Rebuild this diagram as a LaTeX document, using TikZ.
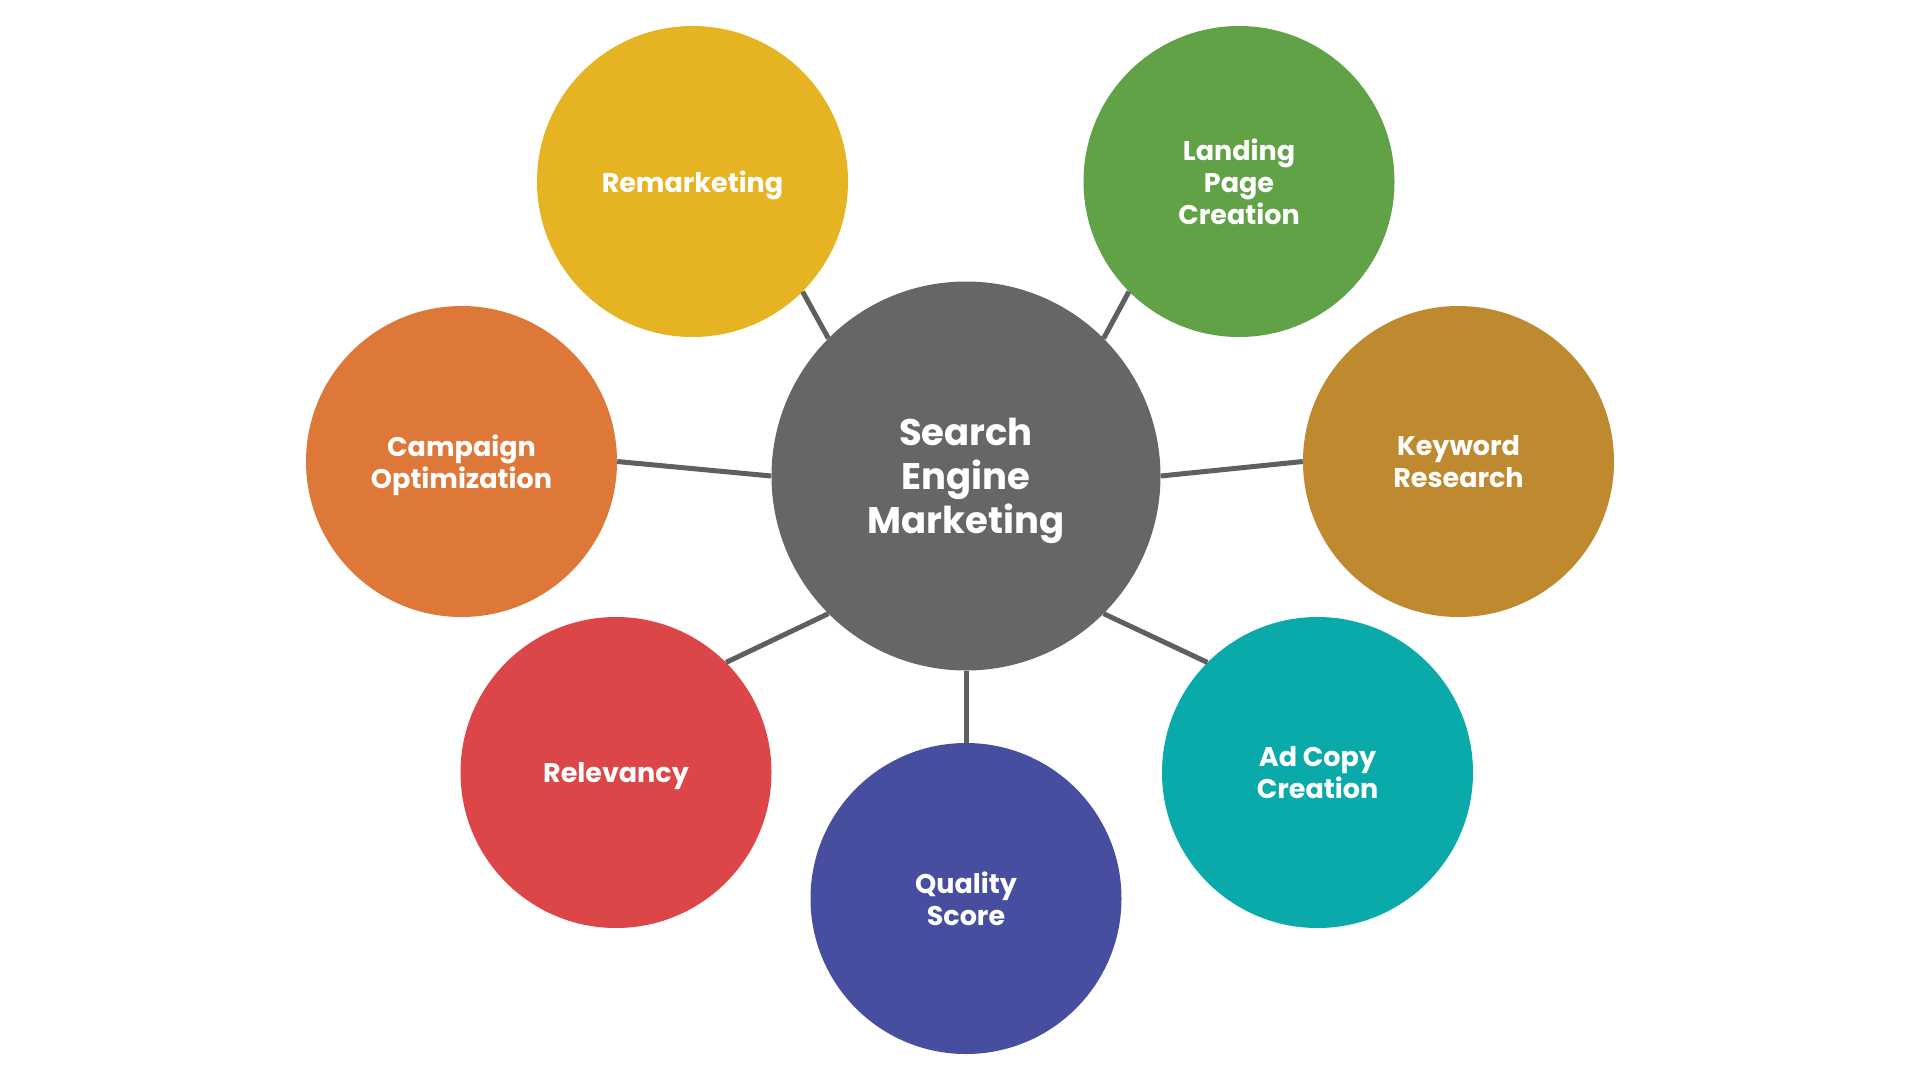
\documentclass[tikz,border=0pt]{standalone}
\usepackage{fontspec}
\setmainfont{Poppins}
\usepackage{tikz}

\definecolor{hubgray}{HTML}{666666}
\definecolor{linegray}{HTML}{5F5F5F}
\definecolor{remyellow}{HTML}{E6B422}
\definecolor{landgreen}{HTML}{62A246}
\definecolor{camporange}{HTML}{DE7839}
\definecolor{kwbrown}{HTML}{BF8A2F}
\definecolor{relred}{HTML}{DD4648}
\definecolor{adteal}{HTML}{0AA9AA}
\definecolor{qsblue}{HTML}{474E9F}

\begin{document}
\begin{tikzpicture}[x=1pt, y=-1pt,
    bubble/.style={circle, minimum size=311pt, inner sep=0pt, text=white,
        align=center, text depth=0pt, font=\fontsize{27}{31.7}\selectfont\bfseries},
    connector/.style={draw=linegray, line width=5pt}]
        \useasboundingbox (0, 0) rectangle (1920, 1080);

        % center node
        \node[circle, fill=hubgray, minimum size=389pt, inner sep=0pt, text=white,
            align=center, text depth=0pt, font=\fontsize{37}{44}\selectfont\bfseries]
            (sem) at (966, 476) {Search\\Engine\\Marketing};

        % outer nodes
        \node[bubble, fill=remyellow] (rem) at (692.5, 181.5) {Remarketing};
        \node[bubble, fill=landgreen] (land) at (1239, 181.5) {Landing\\Page\\Creation};
        \node[bubble, fill=camporange] (camp) at (461.5, 461.5) {Campaign\\Optimization};
        \node[bubble, fill=kwbrown] (kw) at (1458.5, 461.5) {Keyword\\Research};
        \node[bubble, fill=relred] (rel) at (616, 772.5) {Relevancy};
        \node[bubble, fill=adteal] (ad) at (1317.5, 772.5) {Ad Copy\\Creation};
        \node[bubble, fill=qsblue] (qs) at (966, 898.5) {Quality\\Score};

        % connectors
        \draw[connector] (sem.north west) -- (rem.south east);
        \draw[connector] (sem.north east) -- (land.south west);
        \draw[connector] (sem.west) -- (camp.east);
        \draw[connector] (sem.east) -- (kw.west);
        \draw[connector] (sem.south west) -- (rel.north east);
        \draw[connector] (sem.south east) -- (ad.north west);
        \draw[connector] (sem.south) -- (qs.north);
    \end{tikzpicture}
\end{document}
